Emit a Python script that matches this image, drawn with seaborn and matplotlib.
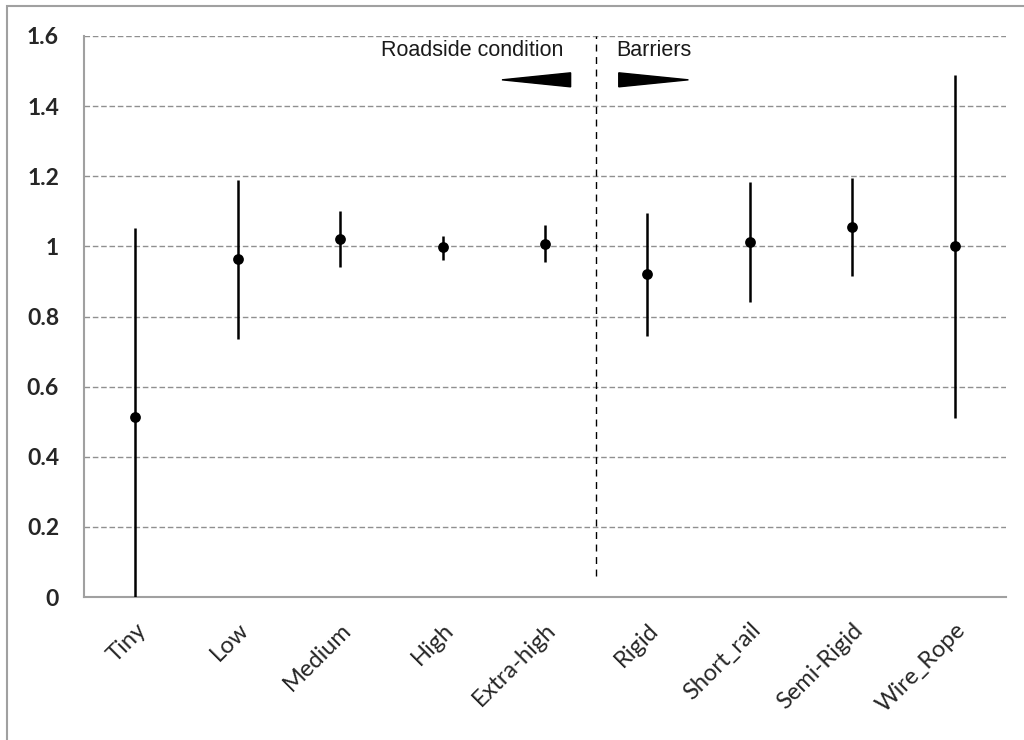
import matplotlib
matplotlib.use("Agg")
import matplotlib.pyplot as plt
import seaborn as sns
import numpy as np
import pandas as pd
from matplotlib.patches import Rectangle

categories = ["Tiny", "Low", "Medium", "High", "Extra-high",
              "Rigid", "Short_rail", "Semi-Rigid", "Wire_Rope"]
estimate = [0.512, 0.965, 1.022, 0.997, 1.008, 0.922, 1.013, 1.055, 1.000]
lower = [0.0, 0.735, 0.940, 0.960, 0.955, 0.745, 0.840, 0.915, 0.510]
upper = [1.052, 1.190, 1.100, 1.030, 1.060, 1.095, 1.185, 1.195, 1.490]
ytick_values = [0, 0.2, 0.4, 0.6, 0.8, 1, 1.2, 1.4, 1.6]
ytick_labels = ["0", "0.2", "0.4", "0.6", "0.8", "1", "1.2", "1.4", "1.6"]

df = pd.DataFrame({"cat": categories, "est": estimate, "lo": lower, "hi": upper})
df["x"] = np.arange(len(df))

sns.set_style("white")
plt.rcParams["font.family"] = ["Lato", "DejaVu Sans"]

fig = plt.figure(figsize=(10.24, 7.4), dpi=100)
ax = fig.add_axes([84 / 1024, 143 / 740, 922 / 1024, 561 / 740])

# figure frame (top & left visible)
fig.patches.append(Rectangle((7 / 1024, -0.1), 1.2, (734 / 740) + 0.1, transform=fig.transFigure,
                             fill=False, edgecolor="#a0a0a0", linewidth=1.5, zorder=-1))

# gridlines
for v in ytick_values[1:]:
    ax.axhline(v, color="#909090", linestyle=(0, (4, 2)), linewidth=1.0, zorder=0)

ax.errorbar(df["x"], df["est"],
            yerr=[df["est"] - df["lo"], df["hi"] - df["est"]],
            fmt="none", ecolor="black", elinewidth=1.8, capsize=0, zorder=3)
sns.scatterplot(data=df, x="x", y="est", color="black", s=60, edgecolor="black",
                linewidth=0, ax=ax, zorder=4, legend=False)

ax.set_xlim(-0.5, len(categories) - 0.5)
ax.set_ylim(0, 1.6)

# separator between groups
ax.plot([4.5, 4.5], [0.06, 1.6], color="black", linestyle=(0, (5, 4)), linewidth=1.0, zorder=2)

ax.text(3.29, 1.558, "Roadside condition", ha="center", va="center", fontsize=15.5,
        family=["Liberation Sans"], color="#1a1a1a")
ax.text(5.06, 1.558, "Barriers", ha="center", va="center", fontsize=15.5,
        family=["Liberation Sans"], color="#1a1a1a")
ax.fill([3.58, 4.25, 4.25], [1.475, 1.495, 1.455], color="black", zorder=5)
ax.fill([5.40, 4.72, 4.72], [1.475, 1.495, 1.455], color="black", zorder=5)

# axes styling
for s in ["top", "right"]:
    ax.spines[s].set_visible(False)
for s in ["left", "bottom"]:
    ax.spines[s].set_color("#a0a0a0")
    ax.spines[s].set_linewidth(1.5)

ax.set_yticks(ytick_values)
ax.set_yticklabels(ytick_labels, fontsize=16.5, fontweight="bold")
ax.tick_params(axis="y", length=8, width=1.2, color="#a0a0a0", direction="out", pad=10)

ax.set_xticks(np.arange(-0.5, len(categories), 1.0))
ax.set_xticklabels([])
ax.set_xticks(df["x"], minor=True)
ax.set_xticklabels(categories, minor=True, rotation=45, ha="right",
                   rotation_mode="anchor", fontsize=17)
ax.tick_params(axis="x", which="major", length=8, width=1.2, color="#a0a0a0", direction="out")
ax.tick_params(axis="x", which="minor", length=0, pad=16)

ax.set_xlabel("")
ax.set_ylabel("")

fig.savefig("out.png", dpi=100)
